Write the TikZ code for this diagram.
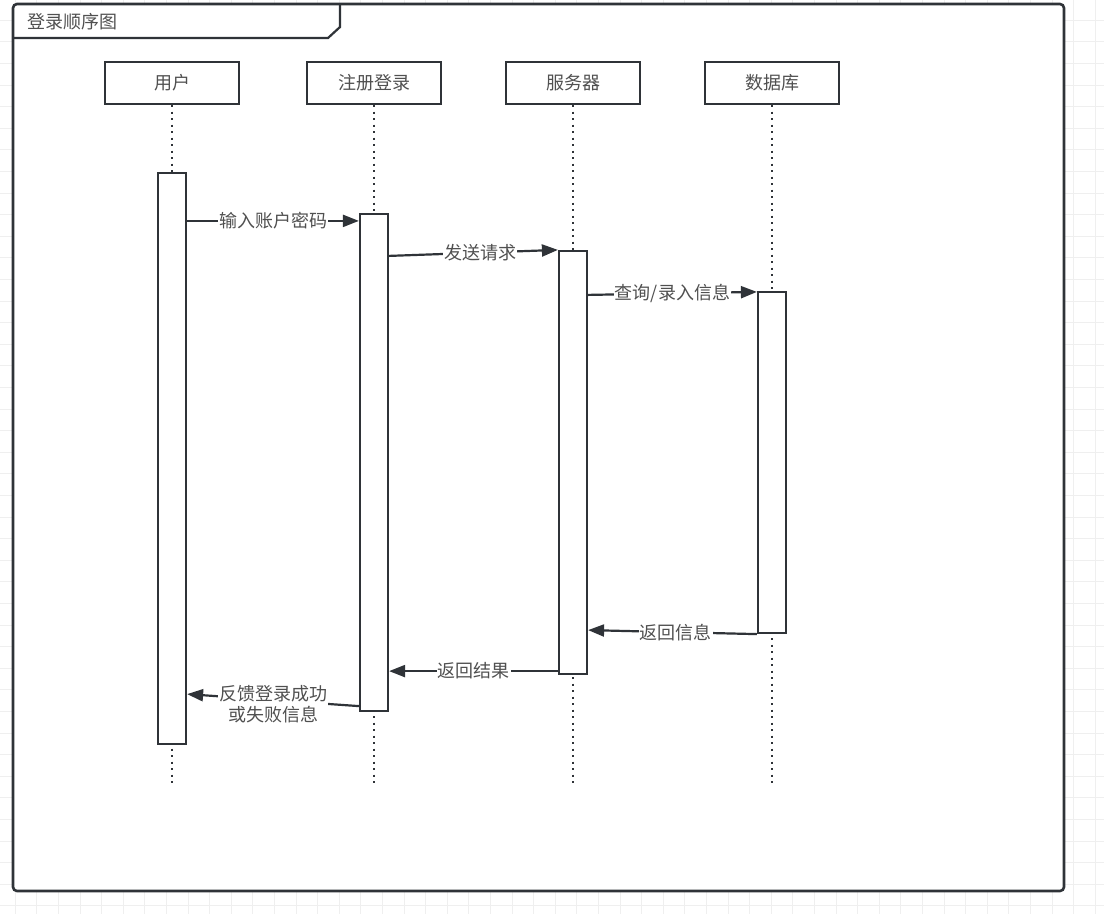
\documentclass[tikz,border=0pt]{standalone}
\usepackage{fontspec}
\setmainfont{Noto Sans CJK SC}
\usetikzlibrary{arrows.meta,positioning,calc}
\definecolor{ink}{HTML}{2F3338}
\definecolor{textgray}{HTML}{505050}
\definecolor{gridline}{HTML}{EFEFEF}
\tikzset{
  headbox/.style={draw=ink, line width=2.2pt, fill=white, minimum width=134pt, minimum height=42pt, font=\fontsize{18}{22}\selectfont, text=textgray},
  actbar/.style={draw=ink, line width=2.2pt, fill=white, minimum width=28pt, inner sep=0pt},
  lifeline/.style={draw=ink, line width=2pt, dash pattern=on 2pt off 4.5pt},
  msg/.style={-{Triangle[length=16pt, width=12pt]}, line width=2.2pt, draw=ink},
  msglabel/.style={fill=white, inner sep=1pt, font=\fontsize{18}{21}\selectfont, text=textgray, align=center}
}

\begin{document}
\begin{tikzpicture}[x=1pt, y=-1pt]
  \useasboundingbox (0,0) rectangle (1104,914);
  % background grid
  \foreach \gx in {15,36.6,...,1104} \draw[gridline] (\gx,0) -- (\gx,914);
  \foreach \gy in {20,41.6,...,914} \draw[gridline] (0,\gy) -- (1104,\gy);

  % frame and title tab
  \draw[ink, line width=2.6pt, fill=white, rounded corners=4pt] (13,4) rectangle (1064,891);
  \draw[ink, line width=2.2pt] (13,38) -- (328,38) -- (340,27) -- (340,4);
  \node[anchor=west, font=\fontsize{18}{22}\selectfont, text=textgray, inner sep=0pt] (title) at (27,22) {登录顺序图};

  % participants
  \node[headbox] (user) at (172,83) {\raisebox{-2pt}{用户}};
  \node[headbox] (reg) at (374,83) {\raisebox{-2pt}{注册登录}};
  \node[headbox] (srv) at (573,83) {\raisebox{-2pt}{服务器}};
  \node[headbox] (db) at (772,83) {\raisebox{-2pt}{数据库}};

  \coordinate (userend) at (172,785);
  \coordinate (regend) at (374,785);
  \coordinate (srvend) at (573,785);
  \coordinate (dbend) at (772,785);
  \draw[lifeline] (user.south) -- (userend);
  \draw[lifeline] (reg.south) -- (regend);
  \draw[lifeline] (srv.south) -- (srvend);
  \draw[lifeline] (db.south) -- (dbend);

  % activation bars
  \node[actbar, minimum height=571pt] (userbar) at (172,458.5) {};
  \node[actbar, minimum height=497pt] (regbar) at (374,462.5) {};
  \node[actbar, minimum height=423pt] (srvbar) at (573,462.5) {};
  \node[actbar, minimum height=341pt] (dbbar) at (772,462.5) {};

  % messages
  \draw[msg] ([yshift=-49pt]userbar.north east) -- ([yshift=-8pt]regbar.north west) node[msglabel, midway] {输入账户密码};
  \draw[msg] ([yshift=-43pt]regbar.north east) -- (srvbar.north west) node[msglabel, pos=0.54] {发送请求};
  \draw[msg] ([yshift=-45pt]srvbar.north east) -- ([yshift=-1pt]dbbar.north west) node[msglabel, midway] {查询/录入信息};
  \draw[msg] (dbbar.south west) -- ([yshift=45pt]srvbar.south east) node[msglabel, pos=0.48] {返回信息};
  \draw[msg] ([yshift=4pt]srvbar.south west) -- ([yshift=41pt]regbar.south east) node[msglabel, midway] {返回结果};
  \draw[msg] ([yshift=6pt]regbar.south west) -- ([yshift=51pt]userbar.south east) node[msglabel, midway, yshift=-4pt] {反馈登录成功\\或失败信息};
\end{tikzpicture}
\end{document}
